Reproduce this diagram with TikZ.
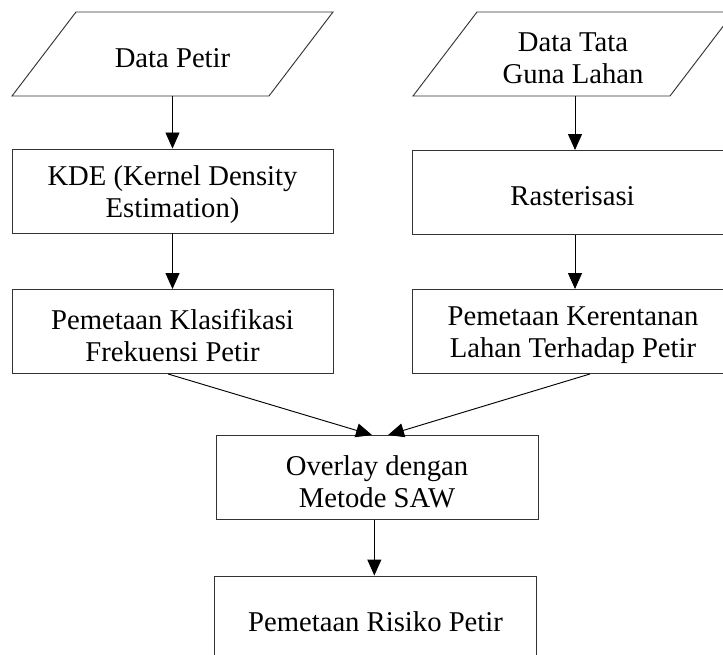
\documentclass[tikz,border=0pt]{standalone}
\usepackage{fontspec}
\setmainfont{Liberation Serif}
\usetikzlibrary{arrows.meta,calc}
\begin{document}
\begin{tikzpicture}[x=0.75pt,y=-0.75pt,
  box/.style={draw=black!80, line width=0.7pt, minimum width=240.75pt, minimum height=63pt, inner sep=0pt},
  txt/.style={align=center, font=\fontsize{21.5}{24}\selectfont, inner sep=0pt, yshift=-3pt},
  arr/.style={-{Triangle[length=12pt,width=10.5pt]}, line width=0.7pt},
  para/.style={draw=black!80, line width=0.7pt}]
\useasboundingbox (0,0) rectangle (723,655);
\clip (0,0) rectangle (723,655);
% input parallelograms
\draw[para] (76,12) -- (333,12) -- (269,96) -- (12,96) -- cycle;
\draw[para] (477,12) -- (734,12) -- (670,96) -- (413,96) -- cycle;
\coordinate (d1) at (172.5,54);
\coordinate (d2) at (573,54);
\coordinate (d1b) at (172.5,96);
\coordinate (d2b) at (575,96);
\node[txt] (d1t) at (d1) {Data Petir};
\node[txt] (d2t) at (d2) {Data Tata\\Guna Lahan};
% boxes
\node[box] (kde) at (172.5,191) {};
\node[box] (rast) at (572.5,192.5) {};
\node[box] (pkf) at (172.5,331.5) {};
\node[box] (pkl) at (573,331.5) {};
\node[box, minimum width=241.5pt] (ov) at (377,477.5) {};
\node[box, minimum width=242pt] (ris) at (375.5,618) {};
\node[txt] (kdet) at (kde) {KDE (Kernel Density\\Estimation)};
\node[txt] (rastt) at (rast) {Rasterisasi};
\node[txt] (pkft) at (pkf) {Pemetaan Klasifikasi\\Frekuensi Petir};
\node[txt] (pklt) at (pkl) {Pemetaan Kerentanan\\Lahan Terhadap Petir};
\node[txt] (ovt) at (ov) {Overlay dengan\\Metode SAW};
\node[txt] (rist) at (ris) {Pemetaan Risiko Petir};
% connectors
\draw[arr] (d1b) -- (d1b |- kde.north);
\draw[arr] (d2b) -- (d2b |- rast.north);
\draw[arr] (kde.south) -- (pkf.north);
\draw[arr] (d2b |- rast.south) -- (d2b |- pkl.north);
\draw[arr] ([xshift=-3.4pt]pkf.south) -- ([xshift=-3.75pt]ov.north);
\draw[arr] ([xshift=12.75pt]pkl.south) -- ([xshift=8.25pt]ov.north);
\draw[arr] ([xshift=-2pt]ov.south) -- ([xshift=-2pt]ov.south |- ris.north);
\end{tikzpicture}
\end{document}
